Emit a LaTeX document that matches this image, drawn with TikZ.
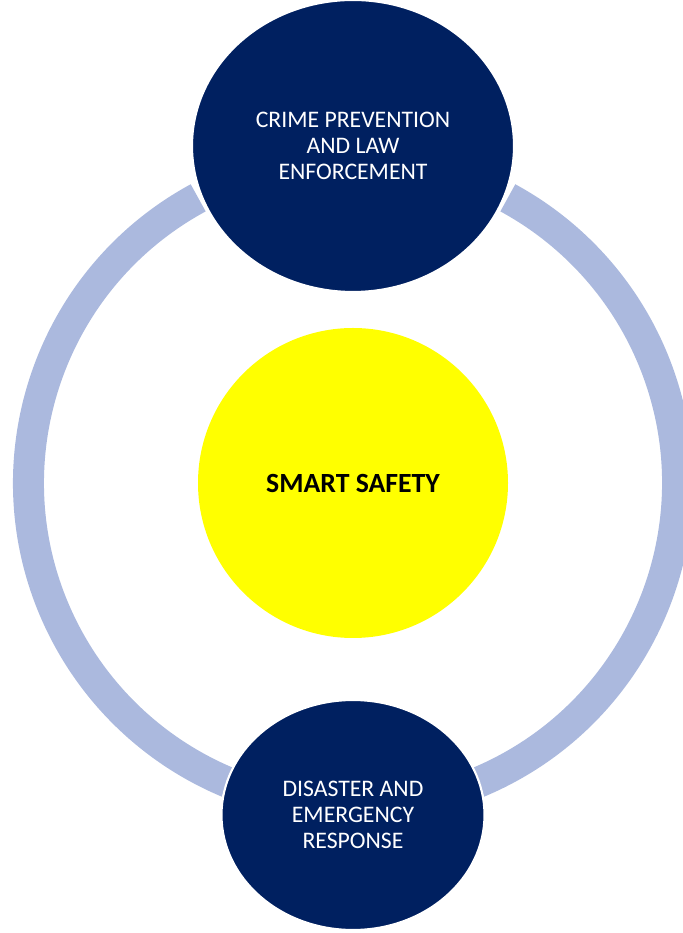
\documentclass[tikz,border=0pt]{standalone}
\usepackage{fontspec}
\setmainfont{Carlito}
\usetikzlibrary{shapes.geometric,positioning,backgrounds}
\definecolor{navy}{RGB}{0,32,96}
\definecolor{ringblue}{RGB}{171,185,222}
\definecolor{hubyellow}{RGB}{255,255,0}
\tikzset{node distance=6.74cm, % centre to centre, hub to top topic
        hub/.style={ % the yellow centre
            circle,
            fill=hubyellow,
            minimum size=6.2cm,
            inner sep=0pt,
            font=\fontsize{15.8}{18}\selectfont\bfseries},
        topic/.style={ % the navy ellipses on the ring
            ellipse,
            fill=navy,
            draw=white,
            line width=1.2pt,
            inner sep=0pt,
            text=white,
            align=center,
            font=\fontsize{13.5}{14.9}\selectfont},
        ring/.style={ % the light blue cycle behind the topics
            draw=ringblue,
            line width=0.62cm}
        }
\begin{document}
\begin{tikzpicture}
    % page size, hub at the origin
    \useasboundingbox (-7.06,-9.0) rectangle (6.58,9.66);

    \node[hub] (safety) at (0,0) {SMART SAFETY};
    \node[topic, minimum width=6.44cm, minimum height=5.84cm] (crime) [above of=safety]
        {CRIME PREVENTION\\AND LAW\\ENFORCEMENT};
    \node[topic, minimum width=5.26cm, minimum height=4.6cm] (disaster) [below of=safety, node distance=6.64cm]
        {DISASTER AND\\EMERGENCY\\RESPONSE};

    \begin{scope}[on background layer]
        \draw[ring] ([shift={(118.5:6.49cm)}]safety.center)
            arc[start angle=118.5, end angle=247.3, radius=6.49cm];
        \draw[ring] ([shift={(-67.3:6.49cm)}]safety.center)
            arc[start angle=-67.3, end angle=61.5, radius=6.49cm];
    \end{scope}
\end{tikzpicture}
\end{document}
